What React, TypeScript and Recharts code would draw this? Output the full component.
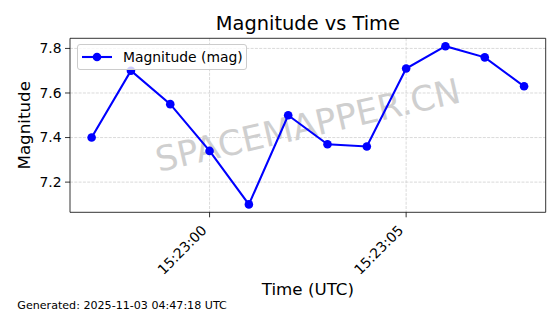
import { LineChart, Line, XAxis, YAxis, CartesianGrid, ReferenceArea } from 'recharts'

const times = ['15:22:57', '15:22:58', '15:22:59', '15:23:00', '15:23:01', '15:23:02', '15:23:03', '15:23:04', '15:23:05', '15:23:06', '15:23:07', '15:23:08']
const magnitudes = [7.4, 7.7, 7.55, 7.34, 7.1, 7.5, 7.37, 7.36, 7.71, 7.81, 7.76, 7.63]
const xTickLabels = ['15:23:00', '15:23:05']
const yTicks = [7.2, 7.4, 7.6, 7.8]

const FONT = '"DejaVu Sans", sans-serif'

const toSec = (t: string) => {
  const [h, m, s] = t.split(':').map(Number)
  return h * 3600 + m * 60 + s
}

const data = times.map((t, i) => ({ t: toSec(t), mag: magnitudes[i] }))

const pad = (lo: number, hi: number): [number, number] => {
  const r = hi - lo
  return [lo - r * 0.05, hi + r * 0.05]
}
const xDomain = pad(Math.min(...data.map((d) => d.t)), Math.max(...data.map((d) => d.t)))
const yDomain = pad(Math.min(...magnitudes), Math.max(...magnitudes))

const secToLabel = (v: number) => {
  const h = Math.floor(v / 3600)
  const m = Math.floor((v % 3600) / 60)
  const s = v % 60
  return [h, m, s].map((n) => String(n).padStart(2, '0')).join(':')
}

const XTick = ({ x, y, payload }: any) => (
  <text
    x={0}
    y={0}
    transform={`translate(${x - 2}, ${y + 12}) rotate(-45)`}
    textAnchor="end"
    fontFamily={FONT}
    fontSize={13.9}
    fill="#000"
  >
    {secToLabel(payload.value)}
  </text>
)

const LegendBox = () => (
  <div
    style={{
      position: 'absolute',
      left: 77,
      top: 44,
      width: 168,
      height: 24,
      border: '1px solid #cccccc',
      borderRadius: 3,
      background: 'rgba(255,255,255,0.8)',
      display: 'flex',
      alignItems: 'center',
      fontFamily: FONT,
      fontSize: 13.9,
      color: '#000',
    }}
  >
    <svg width={44} height={24}>
      <line x1={4} y1={12} x2={34} y2={12} stroke="#0000ff" strokeWidth={2.1} />
      <circle cx={19} cy={12} r={4.3} fill="#0000ff" />
    </svg>
    <span style={{ marginLeft: 1 }}>Magnitude (mag)</span>
  </div>
)

export default function App() {
  return (
    <div style={{ position: 'absolute', left: 0, top: 0, width: 560, height: 314, background: '#fff' }}>
      <svg width={560} height={314} style={{ position: 'absolute', left: 0, top: 0 }}>
        <text
          x={307.9}
          y={125.3}
          transform="rotate(-13 307.9 125.3)"
          textAnchor="middle"
          dominantBaseline="central"
          fontFamily={FONT}
          fontSize={34.7}
          fill="#cfcfcf"
        >
          SPACEMAPPER.CN
        </text>
      </svg>
      <LineChart
        width={560}
        height={314}
        data={data}
        margin={{ top: 38.3, right: 14.3, left: 0, bottom: 0 }}
        style={{ position: 'absolute', left: 0, top: 0 }}
      >
        <CartesianGrid
          stroke="#d0d0d0"
          strokeDasharray="3 1.3"
          strokeWidth={0.8}
          horizontalValues={yTicks}
          verticalValues={xTickLabels.map(toSec)}
        />
        <XAxis
          type="number"
          dataKey="t"
          domain={xDomain}
          allowDataOverflow
          ticks={xTickLabels.map(toSec)}
          height={101.7}
          tickSize={5}
          axisLine={false}
          tickLine={{ stroke: '#000', strokeWidth: 0.8 }}
          tick={<XTick />}
          interval={0}
        />
        <YAxis
          type="number"
          domain={yDomain}
          allowDataOverflow
          ticks={yTicks}
          width={70}
          tickSize={5}
          tickMargin={3.5}
          axisLine={false}
          tickLine={{ stroke: '#000', strokeWidth: 0.8 }}
          tickFormatter={(v: number) => v.toFixed(1)}
          tick={{ fill: '#000', fontSize: 13.9, fontFamily: FONT }}
          interval={0}
        />
        <ReferenceArea
          x1={xDomain[0]}
          x2={xDomain[1]}
          y1={yDomain[0]}
          y2={yDomain[1]}
          fill="none"
          stroke="#000"
          strokeWidth={0.8}
          ifOverflow="visible"
        />
        <Line
          dataKey="mag"
          stroke="#0000ff"
          strokeWidth={2.1}
          dot={{ r: 4.3, fill: '#0000ff', stroke: '#0000ff', strokeWidth: 0 }}
          activeDot={false}
          isAnimationActive={false}
        />
      </LineChart>
      <LegendBox />
      <svg width={560} height={314} style={{ position: 'absolute', left: 0, top: 0, pointerEvents: 'none' }}>
        <text x={307.9} y={30} textAnchor="middle" fontFamily={FONT} fontSize={19.4} fill="#000">
          Magnitude vs Time
        </text>
        <text x={307.9} y={295} textAnchor="middle" fontFamily={FONT} fontSize={16.7} fill="#000">
          Time (UTC)
        </text>
        <text
          x={0}
          y={0}
          transform="translate(29.5, 125.3) rotate(-90)"
          textAnchor="middle"
          fontFamily={FONT}
          fontSize={16.7}
          fill="#000"
        >
          Magnitude
        </text>
        <text x={17.3} y={309} fontFamily={FONT} fontSize={11.1} fill="#000">
          Generated: 2025-11-03 04:47:18 UTC
        </text>
      </svg>
    </div>
  )
}
